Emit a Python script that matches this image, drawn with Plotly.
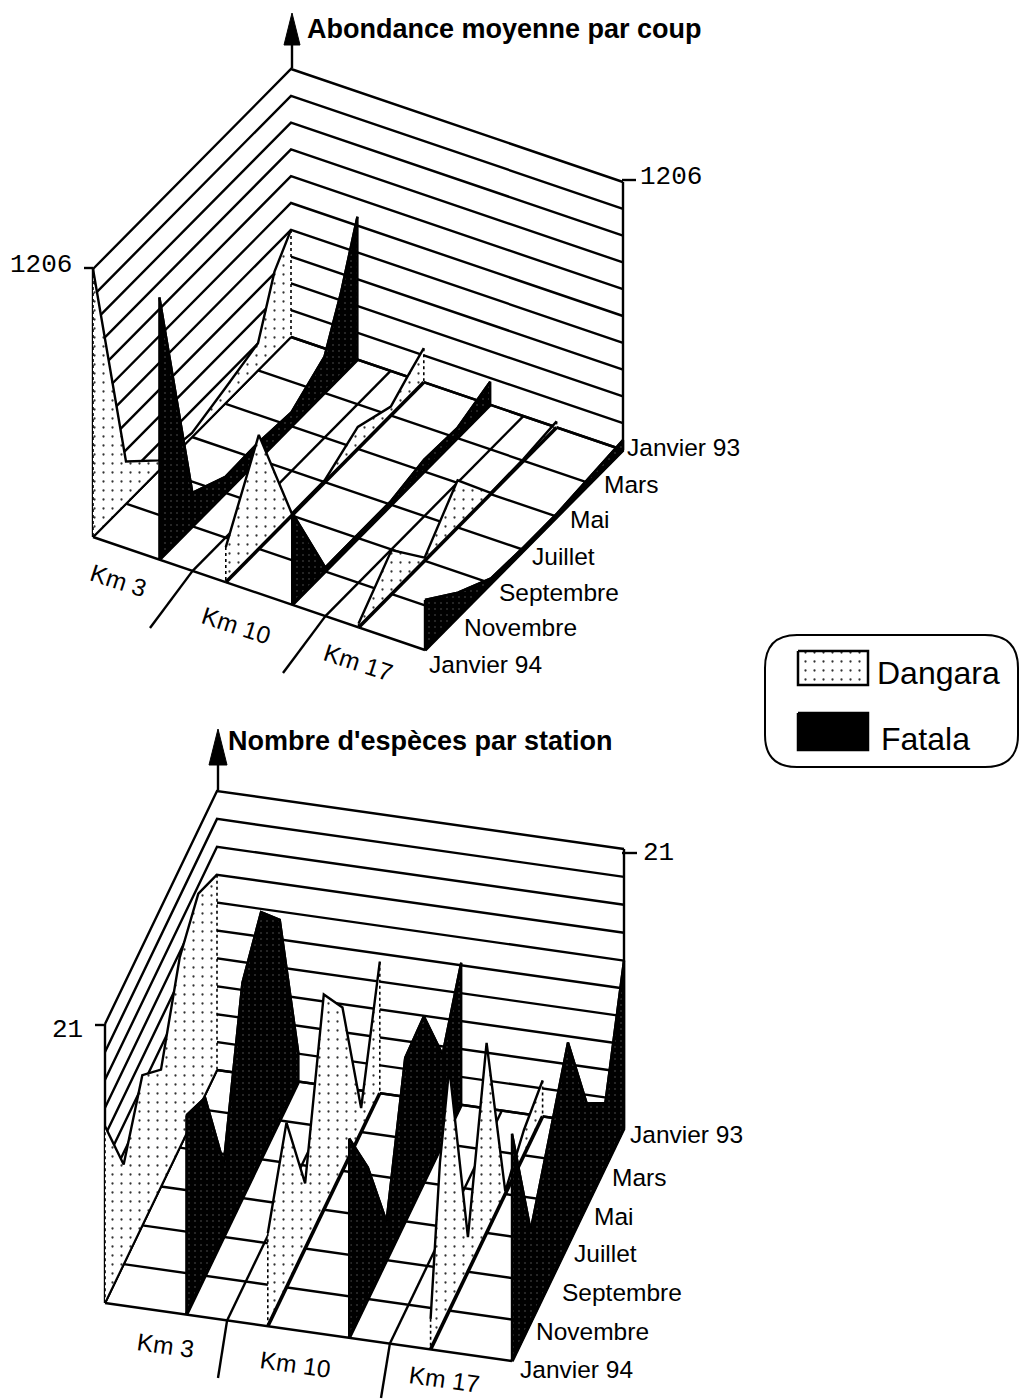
import plotly.graph_objects as go

# ---- data: 13 half-interval readings from Janvier 94 (first) to Janvier 93 (last); None = no reading
MONTHS = ["Janvier 94", "Novembre", "Septembre", "Juillet", "Mai", "Mars", "Janvier 93"]
STATIONS = ["Km 3", "Km 10", "Km 17"]
RIVERS = ["Dangara", "Fatala"]

ABUND_DANGARA_KM3 = [1206, None, 190, None, 45, None, 18, None, 68, None, 122, 369, 482]
ABUND_FATALA_KM3 = [1180, None, 150, None, 72, None, 77, None, 63, None, 162, 374, 643]
ABUND_DANGARA_KM10 = [158, None, 513, None, 9, None, 9, None, 99, None, 40, 99, 153]
ABUND_FATALA_KM10 = [414, None, 18, None, 18, None, 18, None, 54, None, 45, None, 104]
ABUND_DANGARA_KM17 = [18, None, 198, None, 14, None, 212, None, 5, None, 9, None, 27]
ABUND_FATALA_KM17 = [225, None, 108, None, 22, None, 14, None, 14, None, 27, None, 45]

SPEC_DANGARA_KM3 = [13.3, None, 7.5, None, 11.3, None, 8.8, None, 14.3, None, 16.2, None, 14.7]
SPEC_FATALA_KM3 = [15.0, None, 13.4, None, 5.5, None, 16.2, None, 18.6, None, 15.1, None, 2.1]
SPEC_DANGARA_KM10 = [7.0, None, 12.4, None, 4.9, None, 16.2, None, 12.3, None, 1.8, None, 9.9]
SPEC_FATALA_KM10 = [15.0, None, 9.9, None, 2.9, None, 12.3, None, 12.5, None, 6.7, None, 10.7]
SPEC_DANGARA_KM17 = [2.3, 12.6, 18.3, None, 2.6, None, 14.3, None, 0.2, None, 1.9, None, 2.7]
SPEC_FATALA_KM17 = [17.1, None, 6.9, None, 11.0, None, 15.2, None, 7.7, None, 4.8, None, 12.6]

ABUND_MAX = 1206
SPEC_MAX = 21

# ---- oblique projection of each panel
TOP = dict(o=(93, 537), ex=(332, 113), ey=(198, -200), h=268, vmax=ABUND_MAX,
           ribbons=[ABUND_DANGARA_KM3, ABUND_FATALA_KM3, ABUND_DANGARA_KM10,
                    ABUND_FATALA_KM10, ABUND_DANGARA_KM17, ABUND_FATALA_KM17])
BOT = dict(o=(105, 1303), ex=(407, 58), ey=(112, -233), h=279, vmax=SPEC_MAX,
           ribbons=[SPEC_DANGARA_KM3, SPEC_FATALA_KM3, SPEC_DANGARA_KM10,
                    SPEC_FATALA_KM10, SPEC_DANGARA_KM17, SPEC_FATALA_KM17])


def proj(p, a, b, v=0.0):
    """a: 0..1 along stations, b: 0..1 along months, v: data value"""
    return (p["o"][0] + a * p["ex"][0] + b * p["ey"][0],
            p["o"][1] + a * p["ex"][1] + b * p["ey"][1] - v / p["vmax"] * p["h"])


fig = go.Figure()
LW = 2.4


def polyline(segments, width=LW, color="black", dash="solid"):
    xs, ys = [], []
    for seg in segments:
        for x, y in seg:
            xs.append(x)
            ys.append(y)
        xs.append(None)
        ys.append(None)
    fig.add_trace(go.Scatter(x=xs, y=ys, mode="lines", line=dict(color=color, width=width, dash=dash),
                             hoverinfo="skip", showlegend=False))


STIPPLE = dict(shape=".", fgcolor="#333333", bgcolor="white", size=9, solidity=0.05, fillmode="replace")
DARK = dict(shape=".", fgcolor="#666666", bgcolor="black", size=6, solidity=0.04, fillmode="replace")


def draw_panel(p):
    segs = []
    for i in range(11):
        v = p["vmax"] * i / 10
        segs.append([proj(p, 0, 0, v), proj(p, 0, 1, v), proj(p, 1, 1, v)])
    segs.append([proj(p, 0, 0), proj(p, 0, 0, p["vmax"])])
    segs.append([proj(p, 1, 1), proj(p, 1, 1, p["vmax"])])
    for i in range(7):
        segs.append([proj(p, 0, i / 6), proj(p, 1, i / 6)])
    segs.append([proj(p, 0, 0), proj(p, 0, 1)])
    segs.append([proj(p, 1, 0), proj(p, 1, 1)])
    segs.append([proj(p, 0.3, 0), proj(p, 0.3, 1)])
    segs.append([proj(p, 0.7, 0), proj(p, 0.7, 1)])
    polyline(segs)
    for r, vals in enumerate(p["ribbons"]):
        a = r / 5
        idx = [i for i, v in enumerate(vals) if v is not None]
        top = [proj(p, a, i / 12, vals[i]) for i in idx]
        base = [proj(p, a, i / 12) for i in idx][::-1]
        poly = top + base + [top[0]]
        dang = r % 2 == 0
        fig.add_trace(go.Scatter(
            x=[q[0] for q in poly], y=[q[1] for q in poly], mode="lines", fill="toself",
            fillcolor="white" if dang else "black",
            fillpattern=STIPPLE if dang else DARK,
            line=dict(color="black" if not dang else "rgba(0,0,0,0)", width=LW if not dang else 0),
            hoverinfo="skip", name=RIVERS[r % 2], showlegend=False))
        polyline([top], width=LW)
        if dang:
            polyline([[top[0], base[-1]], [top[-1], base[0]]], width=1.6, dash="dot")
        polyline([base], width=3.6 if r > 0 else 1.8)


draw_panel(TOP)
draw_panel(BOT)

polyline([
    [proj(TOP, 0.3, 0), (150, 628)], [proj(TOP, 0.7, 0), (283, 673)],
    [proj(BOT, 0.3, 0), (218, 1378)], [proj(BOT, 0.7, 0), (381, 1398)],
    [(84, 268), (93, 268)], [(622, 180), (636, 180)],
    [(95, 1025), (105, 1025)], [(622, 853), (637, 853)],
    [(292, 40), (292, 68)], [(218, 760), (218, 790)],
])

for name, box, pat, col in [(RIVERS[0], (798, 868, 651, 685), STIPPLE, "white"),
                            (RIVERS[1], (798, 868, 713, 750), None, "black")]:
    x0, x1, y0, y1 = box
    fig.add_trace(go.Scatter(x=[x0, x1, x1, x0, x0], y=[y0, y0, y1, y1, y0], mode="lines", fill="toself",
                             fillcolor=col, fillpattern=pat or {}, line=dict(color="black", width=2.5),
                             name=name, hoverinfo="skip", showlegend=False))

shapes = [
    dict(type="path", xref="x", yref="y", fillcolor="black", line=dict(color="black", width=1),
         path="M292,13 L300,45 L284,45 Z"),
    dict(type="path", xref="x", yref="y", fillcolor="black", line=dict(color="black", width=1),
         path="M218,729 L227,765 L209,765 Z"),
    dict(type="path", xref="x", yref="y", line=dict(color="black", width=2), fillcolor="rgba(0,0,0,0)",
         path="M797,635 L985,635 Q1018,635 1018,668 L1018,735 Q1018,767 985,767 L797,767 "
              "Q765,767 765,735 L765,668 Q765,635 797,635 Z"),
]

SANS = "Liberation Sans"
MONO = "Liberation Mono"


def label(x, y, text, size=24.5, font=SANS, anchor="left", angle=0, bold=False):
    return dict(x=x, y=y, xref="x", yref="y", text=f"<b>{text}</b>" if bold else text, showarrow=False,
                xanchor=anchor, yanchor="middle", textangle=angle,
                font=dict(family=font, size=size, color="black"))


anns = [
    label(305, 29, "Abondance moyenne par coup", size=27, bold=True),
    label(226, 741, "Nombre d'espèces par station", size=27, bold=True),
    label(8, 265, str(ABUND_MAX), size=26, font=MONO),
    label(638, 177, str(ABUND_MAX), size=26, font=MONO),
    label(50, 1030, str(SPEC_MAX), size=26, font=MONO),
    label(641, 853, str(SPEC_MAX), size=26, font=MONO),
    label(875, 673, RIVERS[0], size=32),
    label(879, 739, RIVERS[1], size=32),
]
TOP_MONTH_POS = [(427, 664), (462, 627), (497, 592), (530, 556), (568, 519), (602, 484), (625, 447)]
BOT_MONTH_POS = [(518, 1369), (534, 1331), (560, 1292), (572, 1253), (592, 1216), (610, 1177), (628, 1134)]
for m, (x, y) in zip(MONTHS, TOP_MONTH_POS):
    anns.append(label(x, y, m))
for m, (x, y) in zip(MONTHS, BOT_MONTH_POS):
    anns.append(label(x, y, m))
for s, (x, y) in zip(STATIONS, [(118, 580), (236, 625), (358, 662)]):
    anns.append(label(x, y, s, anchor="center", angle=18))
for s, (x, y) in zip(STATIONS, [(165, 1345), (295, 1364), (444, 1379)]):
    anns.append(label(x, y, s, anchor="center", angle=8))

fig.update_layout(
    width=1019, height=1400, margin=dict(l=0, r=0, t=0, b=0),
    paper_bgcolor="white", plot_bgcolor="white", showlegend=False,
    xaxis=dict(range=[0, 1019], visible=False, fixedrange=True),
    yaxis=dict(range=[1400, 0], visible=False, fixedrange=True),
    shapes=shapes, annotations=anns,
)
fig.write_html("out.html", config={"displayModeBar": False},
               post_script="document.body.style.margin='0';")
